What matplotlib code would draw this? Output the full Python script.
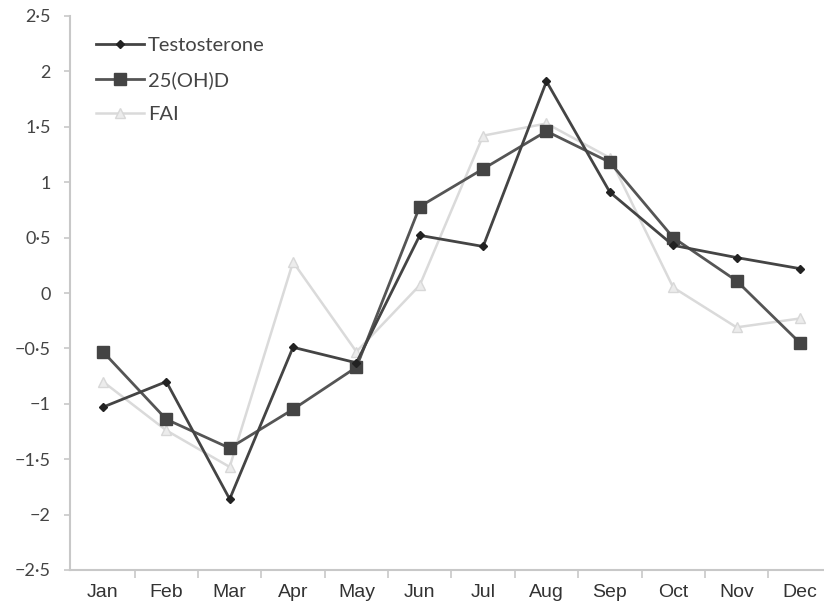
import matplotlib.pyplot as plt
import numpy as np

months = ['Jan', 'Feb', 'Mar', 'Apr', 'May', 'Jun', 'Jul', 'Aug', 'Sep', 'Oct', 'Nov', 'Dec']
testosterone = [-1.03, -0.80, -1.86, -0.49, -0.63, 0.52, 0.42, 1.91, 0.91, 0.43, 0.32, 0.22]
vitd = [-0.53, -1.14, -1.40, -1.05, -0.67, 0.78, 1.12, 1.46, 1.18, 0.50, 0.11, -0.45]
fai = [-0.80, -1.24, -1.57, 0.28, -0.53, 0.07, 1.42, 1.53, 1.22, 0.05, -0.31, -0.23]
yticks = [-2.5, -2, -1.5, -1, -0.5, 0, 0.5, 1, 1.5, 2, 2.5]

fig = plt.figure(figsize=(8.24, 6.08), dpi=100)
ax = fig.add_axes([70/824, 38/608, 754/824, 554/608])
x = np.arange(len(months))

ax.plot(x, fai, color='#dadada', lw=1.8, marker='^', ms=7, mfc='#ececec', mec='#d8d8d8',
        label='FAI', zorder=2)
ax.plot(x, vitd, color='#555555', lw=2.0, marker='s', ms=9, mfc='#444444', mec='#444444',
        label='25(OH)D', zorder=3)
ax.plot(x, testosterone, color='#444444', lw=2.0, marker='D', ms=4.5, mfc='#222222', mec='#222222',
        label='Testosterone', zorder=4)

ax.set_xlim(-0.52, 11.38)
ax.set_ylim(-2.5, 2.5)

# month labels centred, tick marks on the category boundaries
ax.set_xticks(x)
ax.set_xticklabels(months, fontsize=14, color='#333333',
                   family=['Liberation Sans Narrow', 'Liberation Sans'])
ax.tick_params(axis='x', length=0, pad=10)
ax.set_xticks(x[:-1] + 0.5, minor=True)
ax.tick_params(axis='x', which='minor', length=6, color='#c8c8c8', width=1.2)

def fmt(v):
    s = ('%g' % abs(v)).replace('.', '\u00b7')
    return ('\u2212' + s) if v < 0 else s

ax.set_yticks(yticks)
ax.set_yticklabels([fmt(v) for v in yticks], fontsize=13, color='#444444', family='Lato')
ax.tick_params(axis='y', length=4, color='#c8c8c8', width=1.2, pad=10)

for s in ['top', 'right']:
    ax.spines[s].set_visible(False)
for s in ['left', 'bottom']:
    ax.spines[s].set_color('#c8c8c8')
    ax.spines[s].set_linewidth(1.5)

handles, labels = ax.get_legend_handles_labels()
leg = ax.legend(handles[::-1], labels[::-1], loc='upper left', bbox_to_anchor=(0.01, 0.995),
                frameon=False, labelspacing=0.85, handlelength=2.4,
                handletextpad=0.2, prop={'family': 'Lato', 'size': 14.5})
for t in leg.get_texts():
    t.set_color('#444444')

fig.savefig('out.png', dpi=100)
